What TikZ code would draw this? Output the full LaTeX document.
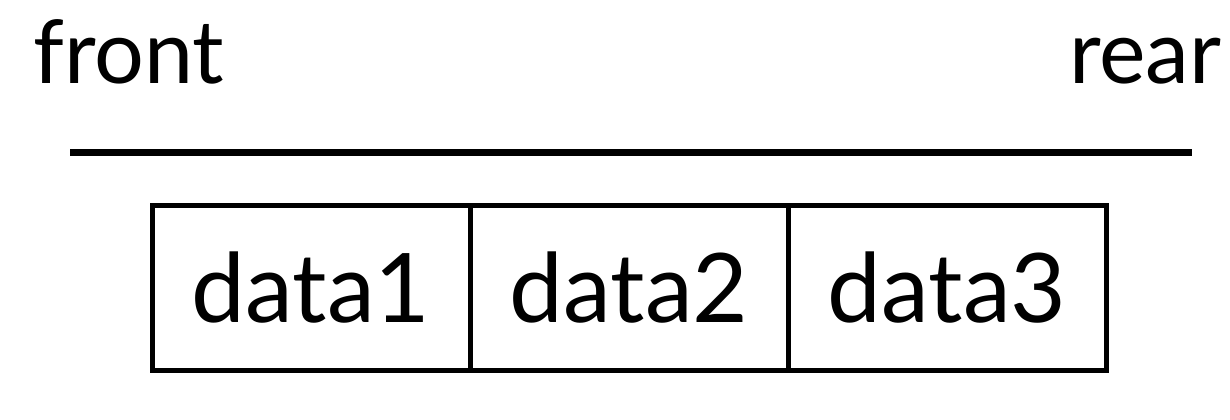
\documentclass[tikz,border=0pt]{standalone}
\usepackage{fontspec}
\setmainfont{Lato}
\usetikzlibrary{positioning}

\begin{document}
\begin{tikzpicture}[x=0.5pt, y=-0.5pt,
  label/.style={font=\fontsize{44}{50}\selectfont, inner sep=0pt},
  cell/.style={draw, line width=2.5pt, minimum width=159pt, minimum height=82.5pt,
               outer sep=0pt, inner sep=0pt, font=\fontsize{48}{56}\selectfont}]
  \useasboundingbox (0,0) rectangle (1230,419);

  % Ends of the queue
  \node[label, anchor=base west] (front) at (33,83) {front};
  \node[label, anchor=base east] (rear) at (1222,83) {rear};

  % Rule under the labels
  \coordinate (ruleL) at (70,152);
  \coordinate (ruleR) at (1192,152);
  \draw[line width=3.5pt] (ruleL) -- (ruleR);

  % Queue cells
  \node[cell] (data1) at (311,287.5) {data1};
  \node[cell, right=0pt of data1] (data2) {data2};
  \node[cell, right=0pt of data2] (data3) {data3};
\end{tikzpicture}
\end{document}
